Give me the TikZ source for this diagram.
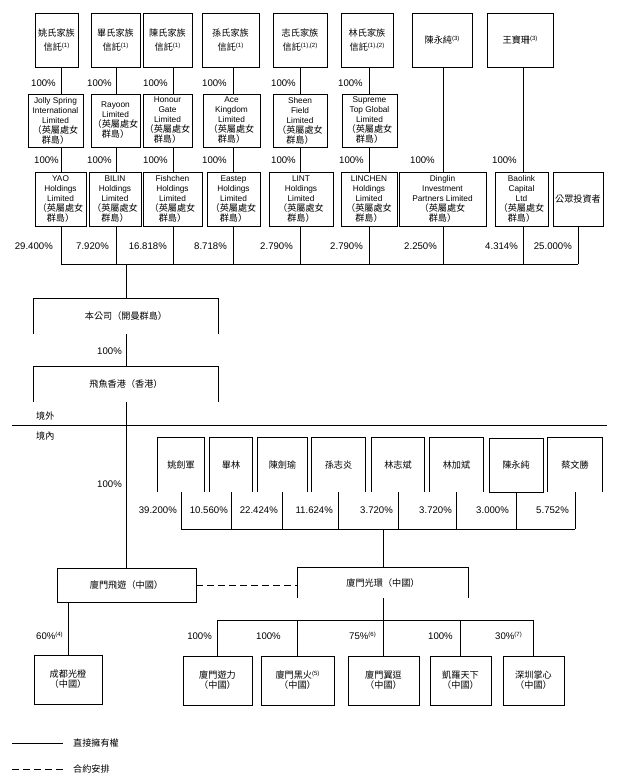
\documentclass[tikz,border=0pt]{standalone}
\usepackage{fontspec}
\setmainfont{Liberation Sans}
\newfontfamily\cjk{Noto Sans CJK TC}[Scale=1.1]
\newcommand\zh[1]{{\cjk #1}}
\newcommand\fn[1]{\raisebox{0.38em}{\fontsize{6}{6}\selectfont(#1)}}
\newcommand\bvi{\zh{（英屬處女}\\\zh{群島）}}
\tikzset{
  base/.style={font=\fontsize{8.3}{10}\selectfont, align=center, inner sep=0pt},
  box/.style={base, draw, line width=0.7pt},
  openbox/.style={base},
  pct/.style={font=\fontsize{9.6}{11}\selectfont, inner sep=0pt},
  ln/.style={line width=0.7pt},
  dashln/.style={line width=0.7pt, dash pattern=on 7pt off 4pt},
}
\newcommand\mybox[6]{\node[box, minimum width={(#3-#1)*1pt}, minimum height={(#4-#2)*1pt}] (#5) at ({(#1+#3)/2},{(#2+#4)/2}) {#6};}
\newcommand\myopen[6]{\node[openbox, minimum width={(#3-#1)*1pt}, minimum height={(#4-#2)*1pt}] (#5) at ({(#1+#3)/2},{(#2+#4)/2}) {#6};
  \draw[ln] (#5.south west) -- (#5.north west) -- (#5.north east) -- (#5.south east);}
\begin{document}
\begin{tikzpicture}[x=1pt,y=-1pt]
\useasboundingbox (0,0) rectangle (620,781);
% top row
\mybox{35}{13}{78}{67}{t1}{\zh{姚氏家族}\\[4pt]\zh{信託}\fn{1}}
\mybox{91}{13}{140}{67}{t2}{\zh{畢氏家族}\\[4pt]\zh{信託}\fn{1}}
\mybox{143}{13}{192}{67}{t3}{\zh{陳氏家族}\\[4pt]\zh{信託}\fn{1}}
\mybox{202}{13}{259}{67}{t4}{\zh{孫氏家族}\\[4pt]\zh{信託}\fn{1}}
\mybox{273}{13}{327}{67}{t5}{\zh{志氏家族}\\[4pt]\zh{信託}\fn{1),(2}}
\mybox{341}{13}{393}{67}{t6}{\zh{林氏家族}\\[4pt]\zh{信託}\fn{1),(2}}
\mybox{412}{13}{472}{67}{t7}{\zh{陳永純}\fn{3}}
\mybox{487}{13}{553}{67}{t8}{\zh{王寶珊}\fn{3}}
% middle row
\mybox{28}{94}{83}{147}{m1}{Jolly Spring\\International\\Limited\\\bvi}
\mybox{91}{94}{140}{147}{m2}{Rayoon\\Limited\\\bvi}
\mybox{143}{94}{192}{147}{m3}{Honour\\Gate\\Limited\\\bvi}
\mybox{203}{94}{260}{147}{m4}{Ace\\Kingdom\\Limited\\\bvi}
\mybox{273}{94}{327}{147}{m5}{Sheen\\Field\\Limited\\\bvi}
\mybox{342}{94}{397}{147}{m6}{Supreme\\Top Global\\Limited\\\bvi}
% holding row
\mybox{35}{172}{86}{226}{h1}{YAO\\Holdings\\Limited\\\bvi}
\mybox{89}{172}{141}{226}{h2}{BILIN\\Holdings\\Limited\\\bvi}
\mybox{143}{172}{202}{226}{h3}{Fishchen\\Holdings\\Limited\\\bvi}
\mybox{207}{172}{260}{226}{h4}{Eastep\\Holdings\\Limited\\\bvi}
\mybox{269}{172}{333}{226}{h5}{LINT\\Holdings\\Limited\\\bvi}
\mybox{341}{172}{397}{226}{h6}{LINCHEN\\Holdings\\Limited\\\bvi}
\mybox{399}{172}{486}{226}{h7}{Dinglin\\Investment\\Partners Limited\\\bvi}
\mybox{495}{172}{548}{226}{h8}{Baolink\\Capital\\Ltd\\\bvi}
\mybox{553}{172}{603}{226}{h9}{\zh{公眾投資者}}
% vertical line positions
\coordinate (x1) at (61,0); \coordinate (x2) at (116,0); \coordinate (x3) at (173,0);
\coordinate (x4) at (233,0); \coordinate (x5) at (300,0); \coordinate (x6) at (369,0);
\coordinate (x7) at (443,0); \coordinate (x8) at (523,0); \coordinate (x9) at (578,0);
\coordinate (bus1) at (0,264);
\foreach \i in {1,...,6} {
  \draw[ln] (t\i.south -| x\i) -- (m\i.north -| x\i);
  \draw[ln] (m\i.south -| x\i) -- (h\i.north -| x\i);
}
\draw[ln] (t7.south -| x7) -- (h7.north -| x7);
\draw[ln] (t8.south -| x8) -- (h8.north -| x8);
\foreach \i in {1,...,9} \draw[ln] (h\i.south -| x\i) -- (bus1 -| x\i);
\draw[ln] (bus1 -| x1) -- (bus1 -| x9);
% 100% labels
\foreach \x in {31,87,143,202,271,338} \node[pct, anchor=west] at (\x,83) {100\%};
\foreach \x in {34,87,143,202,271,339,410,492} \node[pct, anchor=west] at (\x,160) {100\%};
% percentages on bus 1
\foreach \x/\t in {53/29.400,109/7.920,167/16.818,227/8.718,293/2.790,363/2.790,437/2.250,518/4.314,572/25.000}
  \node[pct, anchor=east] at (\x,246) {\t\%};
% company
\myopen{34}{299}{218}{334}{bg}{\zh{本公司（開曼群島）}}
\myopen{34}{367}{218}{402}{fy}{\zh{飛魚香港（香港）}}
\coordinate (b1) at (126,264);
\draw[ln] (b1) -- (bg.north -| b1);
\draw[ln] (bg.south) -- (fy.north);
\node[pct, anchor=east] at (122,351) {100\%};
% border
\coordinate (bl) at (12,425); \coordinate (br) at (607,425);
\draw[ln] (bl) -- (br);
\node[base, anchor=west] (jw) at (36,416) {\zh{境外}};
\node[base, anchor=west] (jn) at (36,436) {\zh{境內}};
% individuals
\myopen{158}{438}{204}{492}{p1}{\zh{姚劍軍}}
\myopen{210}{438}{252}{492}{p2}{\zh{畢林}}
\myopen{258}{438}{307}{492}{p3}{\zh{陳劍瑜}}
\myopen{312}{438}{365}{492}{p4}{\zh{孫志炎}}
\myopen{372}{438}{424}{492}{p5}{\zh{林志斌}}
\myopen{430}{438}{483}{492}{p6}{\zh{林加斌}}
\mybox{489}{438}{543}{492}{p7}{\zh{陳永純}}
\myopen{548}{438}{602}{492}{p8}{\zh{蔡文勝}}
\coordinate (b2) at (0,529);
\foreach \i in {1,...,8} \draw[ln] (p\i.south) -- (p\i.south |- b2);
\draw[ln] (p1.south |- b2) -- (p8.south |- b2);
\foreach \x/\t in {177/39.200,228/10.560,278/22.424,333/11.624,393/3.720,452/3.720,509/3.000,569/5.752}
  \node[pct, anchor=east] at (\x,510) {\t\%};
% PRC companies
\mybox{57}{568}{196}{602}{xf}{\zh{廈門飛遊（中國）}}
\myopen{298}{568}{468}{598}{gh}{\zh{廈門光環（中國）}}
\draw[ln] (fy.south) -- (xf.north -| fy.south);
\node[pct, anchor=east] at (122,484) {100\%};
\draw[ln] (gh.north |- b2) -- (gh.north);
\draw[dashln] (xf.east) -- (xf.east -| gh.west);
\mybox{34}{655}{102}{704}{cd}{\zh{成都光橙}\\\zh{（中國）}}
\draw[ln] (xf.south -| cd.north) -- (cd.north);
\node[pct, anchor=west] at (36,636) {60\%\fn{4}};
\mybox{183}{656}{252}{705}{c1}{\zh{廈門遊力}\\\zh{（中國）}}
\mybox{261}{656}{334}{705}{c2}{\zh{廈門黑火}\fn{5}\\\zh{（中國）}}
\mybox{348}{656}{419}{705}{c3}{\zh{廈門翼逗}\\\zh{（中國）}}
\mybox{430}{656}{491}{705}{c4}{\zh{凱羅天下}\\\zh{（中國）}}
\mybox{503}{656}{564}{705}{c5}{\zh{深圳掌心}\\\zh{（中國）}}
\coordinate (b3) at (0,620);
\draw[ln] (gh.south) -- (gh.south |- b3);
\foreach \i in {1,...,5} \draw[ln] (c\i.north |- b3) -- (c\i.north);
\draw[ln] (c1.north |- b3) -- (c5.north |- b3);
\node[pct, anchor=east] at (212,636) {100\%};
\node[pct, anchor=west] at (256,636) {100\%};
\node[pct, anchor=west] at (349,636) {75\%\fn{6}};
\node[pct, anchor=west] at (428,636) {100\%};
\node[pct, anchor=west] at (495,636) {30\%\fn{7}};
% legend
\coordinate (l1a) at (12,743); \coordinate (l1b) at (63,743);
\coordinate (l2a) at (12,769); \coordinate (l2b) at (63,769);
\draw[ln] (l1a) -- (l1b);
\draw[dashln] (l2a) -- (l2b);
\node[base, anchor=west] (lg1) at (73,743) {\zh{直接擁有權}};
\node[base, anchor=west] (lg2) at (73,769) {\zh{合約安排}};
\end{tikzpicture}
\end{document}
